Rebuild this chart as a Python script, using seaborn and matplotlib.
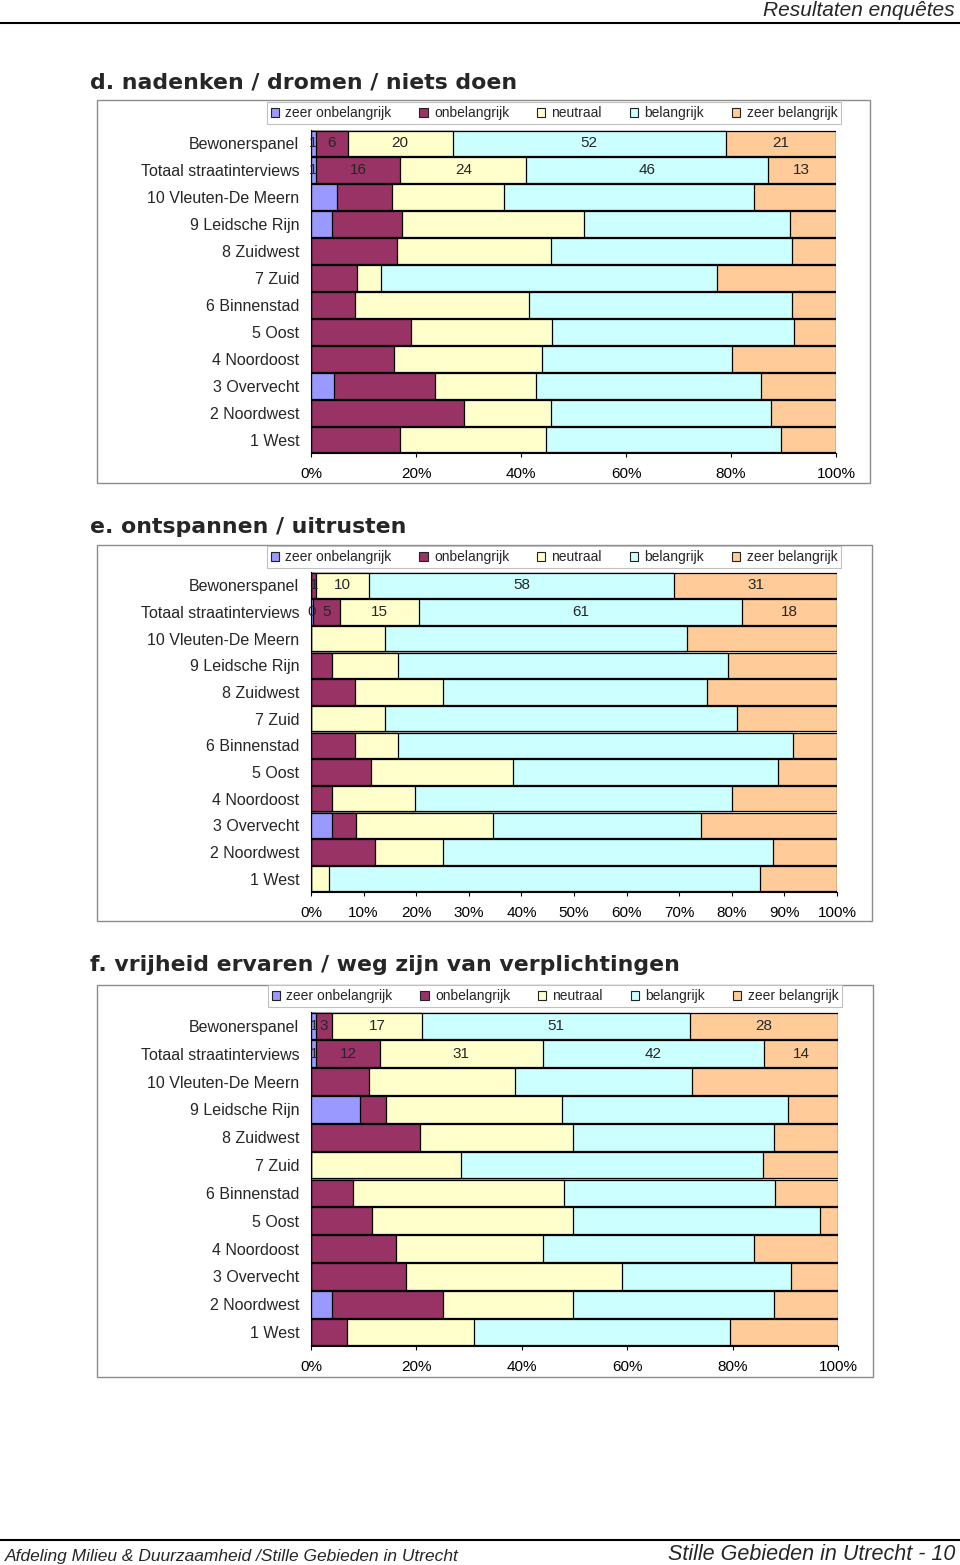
import numpy as np
import pandas as pd
import matplotlib
matplotlib.use("Agg")
import matplotlib.pyplot as plt
import seaborn as sns
from matplotlib.patches import Patch, Rectangle
from matplotlib.lines import Line2D

# data (percentages)
categories = ["Bewonerspanel", "Totaal straatinterviews", "10 Vleuten-De Meern",
              "9 Leidsche Rijn", "8 Zuidwest", "7 Zuid", "6 Binnenstad", "5 Oost",
              "4 Noordoost", "3 Overvecht", "2 Noordwest", "1 West"]
levels = ["zeer onbelangrijk", "onbelangrijk", "neutraal", "belangrijk", "zeer belangrijk"]
colors = ["#9999FF", "#993366", "#FFFFCC", "#CCFFFF", "#FFCC99"]

# d. nadenken / dromen / niets doen
d_zeer_onb = [1, 1, 4.9, 4.0, 0, 0, 0, 0, 0, 4.4, 0, 0]
d_onb = [6, 16, 10.5, 13.3, 16.4, 8.8, 8.3, 19.0, 15.8, 19.2, 29.2, 17.0]
d_neutraal = [20, 24, 21.3, 34.7, 29.3, 4.6, 33.3, 26.9, 28.2, 19.2, 16.5, 27.8]
d_bel = [52, 46, 47.6, 39.2, 45.9, 63.9, 50.0, 46.1, 36.1, 42.9, 41.9, 44.8]
d_zeer_bel = [21, 13, 15.7, 8.8, 8.4, 22.7, 8.4, 8.0, 19.9, 14.3, 12.4, 10.4]

# e. ontspannen / uitrusten
e_zeer_onb = [0, 0.4, 0, 0, 0, 0, 0, 0, 0, 4.0, 0, 0]
e_onb = [1, 5, 0, 3.9, 8.3, 0, 8.3, 11.5, 3.9, 4.6, 12.2, 0]
e_neutraal = [10, 15, 14.1, 12.7, 16.8, 14.1, 8.3, 26.9, 15.9, 26.0, 12.9, 3.5]
e_bel = [58, 61, 57.4, 62.7, 50.1, 66.9, 75.0, 50.3, 60.3, 39.6, 62.7, 81.8]
e_zeer_bel = [31, 18, 28.5, 20.7, 24.8, 19.0, 8.4, 11.3, 19.9, 25.8, 12.2, 14.7]

# f. vrijheid ervaren / weg zijn van verplichtingen
f_zeer_onb = [1, 1, 0, 9.3, 0, 0, 0, 0, 0, 0, 3.9, 0]
f_onb = [3, 12, 11.0, 4.9, 20.6, 0, 7.9, 11.5, 16.1, 18.1, 21.1, 6.8]
f_neutraal = [17, 31, 27.8, 33.4, 29.2, 28.4, 40.2, 38.3, 28.0, 41.0, 24.8, 24.2]
f_bel = [51, 42, 33.5, 43.0, 38.0, 57.3, 40.0, 46.7, 40.0, 32.0, 38.0, 48.5]
f_zeer_bel = [28, 14, 27.7, 9.4, 12.2, 14.3, 11.9, 3.5, 15.9, 8.9, 12.2, 20.5]

d_ticks = [0, 20, 40, 60, 80, 100]
e_ticks = [0, 10, 20, 30, 40, 50, 60, 70, 80, 90, 100]
f_ticks = [0, 20, 40, 60, 80, 100]

titles = ["d. nadenken / dromen / niets doen",
          "e. ontspannen / uitrusten",
          "f. vrijheid ervaren / weg zijn van verplichtingen"]

sns.set_style("white")
plt.rcParams["font.family"] = ["Liberation Sans", "DejaVu Sans"]

W, H = 960, 1565
fig = plt.figure(figsize=(W / 100, H / 100), dpi=100)


def px_rect(x0, y0, x1, y1):
    return [x0 / W, 1 - y1 / H, (x1 - x0) / W, (y1 - y0) / H]


def box(x0, y0, x1, y1, color, lw=1.0):
    fig.add_artist(Rectangle((x0 / W, 1 - y1 / H), (x1 - x0) / W, (y1 - y0) / H,
                             transform=fig.transFigure, fill=False,
                             edgecolor=color, linewidth=lw))


def stacked_chart(ax_rect, series, ticks):
    ax = fig.add_axes(px_rect(*ax_rect))
    df = pd.DataFrame(np.array(series).T, columns=levels, index=categories)
    pct = df.div(df.sum(axis=1), axis=0) * 100
    cum = pct.cumsum(axis=1)
    # draw from the last cumulative layer to the first so the segments stack
    for k in reversed(range(len(levels))):
        sns.barplot(x=cum[levels[k]].values, y=categories, orient="h",
                    color=colors[k], saturation=1, edgecolor="black",
                    linewidth=0.9, width=0.96, ax=ax)
    # value labels on the first two rows
    for i in range(2):
        for k, lev in enumerate(levels):
            v = df[lev].iloc[i]
            if v <= 0:
                continue
            mid = cum[lev].iloc[i] - pct[lev].iloc[i] / 2
            ax.text(mid, i, f"{v:.0f}", ha="center", va="center", fontsize=11)
    ax.set_xlim(0, 100)
    ax.set_xticks(ticks)
    ax.set_xticklabels([f"{t}%" for t in ticks], fontsize=11)
    ax.set_xlabel("")
    ax.set_ylabel("")
    ax.tick_params(axis="x", direction="out", length=3, width=0.8, pad=7,
                   bottom=True, colors="black")
    ax.tick_params(axis="y", length=0, pad=8.5, labelsize=11.5)
    for side in ["top", "right"]:
        ax.spines[side].set_visible(False)
    for side in ["left", "bottom"]:
        ax.spines[side].set_color("black")
        ax.spines[side].set_linewidth(0.8)
    return ax


def legend_box(cx, cy):
    handles = [Patch(facecolor=c, edgecolor="#222222", linewidth=0.8) for c in colors]
    leg = fig.legend(handles, levels, loc="center", ncol=5,
                     bbox_to_anchor=(cx / W, 1 - cy / H), fontsize=10,
                     frameon=True, fancybox=False, edgecolor="#c0c0c0",
                     framealpha=1, handlelength=0.6, handleheight=0.6,
                     handletextpad=0.45, columnspacing=2.0, borderpad=0.3)
    leg.get_frame().set_linewidth(0.8)


# header / footer
fig.text(955 / W, 1 - 10 / H, "Resultaten enquêtes", ha="right", va="center",
         fontsize=15, style="italic")
fig.add_artist(Line2D([0, 1], [1 - 23 / H, 1 - 23 / H], color="black", lw=1.5,
                      transform=fig.transFigure))
fig.add_artist(Line2D([0, 1], [1 - 1540 / H, 1 - 1540 / H], color="black", lw=1.5,
                      transform=fig.transFigure))
fig.text(5 / W, 1 - 1556 / H, "Afdeling Milieu & Duurzaamheid /Stille Gebieden in Utrecht",
         ha="left", va="center", fontsize=12.5, style="italic")
fig.text(955 / W, 1 - 1555 / H, "Stille Gebieden in Utrecht - 10", ha="right",
         va="center", fontsize=15.5, style="italic")

# chart d
fig.text(90 / W, 1 - 83 / H, titles[0], ha="left", va="center", fontsize=15.8,
         fontweight="bold", family="DejaVu Sans")
box(97, 100, 870, 483, "#8c8c8c")
stacked_chart((311, 130, 836, 453),
              [d_zeer_onb, d_onb, d_neutraal, d_bel, d_zeer_bel], d_ticks)
legend_box(554, 113)

# chart e
fig.text(90 / W, 1 - 527 / H, titles[1], ha="left", va="center", fontsize=15.8,
         fontweight="bold", family="DejaVu Sans")
box(97, 545, 872, 921, "#8c8c8c")
stacked_chart((311, 572, 837, 892),
              [e_zeer_onb, e_onb, e_neutraal, e_bel, e_zeer_bel], e_ticks)
legend_box(554, 557)

# chart f
fig.text(90 / W, 1 - 965 / H, titles[2], ha="left", va="center", fontsize=15.8,
         fontweight="bold", family="DejaVu Sans")
box(97, 985, 873, 1377, "#8c8c8c")
stacked_chart((311, 1012, 838, 1346),
              [f_zeer_onb, f_onb, f_neutraal, f_bel, f_zeer_bel], f_ticks)
legend_box(555, 996)

fig.savefig("out.png", dpi=100, facecolor="white")
